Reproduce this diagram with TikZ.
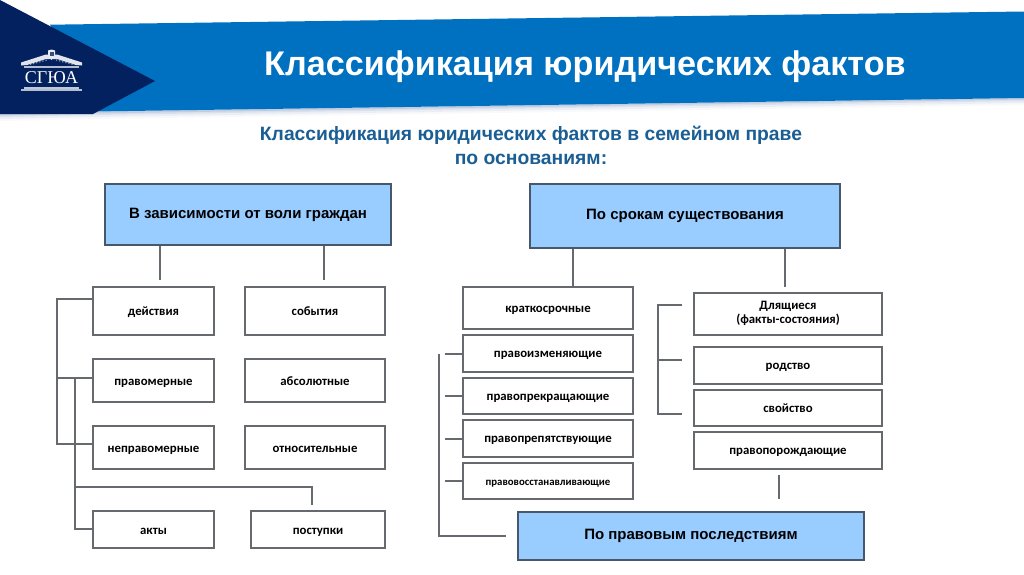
\documentclass[tikz,border=0pt]{standalone}
\usepackage{fontspec}
\setmainfont{Liberation Sans}
\newfontfamily\boxfont{Carlito}
\newfontfamily\logofont{Liberation Serif}
\tikzset{
  x=1pt,y=-1pt,
  box/.style={draw=linegray,line width=1.25pt,fill=white,inner sep=0pt,align=center,text=black,font=\boxfont\bfseries\fontsize{12.8}{15}\selectfont,execute at begin node=\rule[-2pt]{0pt}{13pt}},
  headbox/.style={draw=headline,line width=1.25pt,fill=headblue,inner sep=0pt,align=center,text=black,font=\bfseries\fontsize{15}{18}\selectfont,execute at begin node=\strut},
  headlow/.style={headbox,execute at begin node={\rule[-2.4pt]{0pt}{15pt}}},
  conn/.style={draw=linegray,line width=1.25pt},
}
\definecolor{linegray}{HTML}{666A6E}
\definecolor{headline}{HTML}{48586A}
\definecolor{headblue}{HTML}{99CCFF}
\definecolor{bannerblue}{HTML}{0070C0}
\definecolor{navy}{HTML}{03215F}
\definecolor{subblue}{HTML}{1B5E94}
\definecolor{shadowblue}{HTML}{5070A8}
\newcommand{\bx}[6][box]{%
  \node[#1,minimum width=#5-#3,minimum height=#6-#4] at ({(#3+#5)/2},{(#4+#6)/2})}
\begin{document}
\begin{tikzpicture}
\useasboundingbox (0,0) rectangle (1024,574);
\fill[white] (0,0) rectangle (1024,574);
% banner shadow
\foreach \d/\o in {1.5/.16,3/.11,5/.07,7/.04}{
  \fill[shadowblue,fill opacity=\o] (93,111.5) -- (1024,98) -- (1024,{98+\d}) -- (93,{112+\d}) -- (0,{114+\d}) -- (0,113) -- cycle;
}
% banner
\fill[bannerblue] (50,24.7) -- (1024,11.5) -- (1024,98) -- (93,111.5) -- cycle;
\fill[navy] (0,0) -- (155,81) -- (93,114) -- (0,114) -- cycle;
% logo
\fill[white!88!navy] (21,62.5) -- (46,54.5) -- (57,54.5) -- (82,62.5) -- (82,65.5) -- (76,65) -- (57,59) -- (46,59) -- (27,65) -- (21,65.5) -- cycle;
\draw[white!70!navy,line width=1.6pt] (24,67) -- (79,67);
\draw[white!55!navy,line width=1.2pt,dotted] (30,64.5) -- (47,60) (56,60) -- (73,64.5);
\fill[white!90!navy] (48,50.5) -- (51.5,49.5) -- (55,50.5) -- (55,56) -- (51.5,60) -- (48,56) -- cycle;
\fill[navy!80!white] (49.5,52) rectangle (53.5,56);
\fill[white!75!navy] (24,86.5) rectangle (79,88.5);
\fill[white!70!navy] (21,88.5) rectangle (82,91);
\node[font=\logofont\fontsize{18}{19}\selectfont,text=white,inner sep=0pt] (logo) at (51.5,78) {СГЮА};
% titles
\node[text=white,font=\bfseries\fontsize{34.2}{38}\selectfont,inner sep=0pt,anchor=west] (title) at (264,67) {Классификация юридических фактов};
\node[text=subblue,font=\bfseries\fontsize{19.3}{24}\selectfont,inner sep=0pt,align=center] (sub) at (531,145.5) {Классификация юридических фактов в семейном праве\\по основаниям:};
% head boxes
\bx[headbox]{v}{105}{184}{391}{245} (v) {В зависимости от воли граждан};
\bx[headbox]{s}{530}{184}{840}{248} (s) {По срокам существования};
\bx[headlow]{p}{518}{512}{864}{560} (p) {По правовым последствиям};
% left
\bx{a}{93}{287}{214}{335} (act) {действия};
\bx{a}{245}{287}{385}{335} (ev) {события};
\bx{a}{93}{359}{214}{402} (pm) {правомерные};
\bx{a}{245}{359}{385}{402} (ab) {абсолютные};
\bx{a}{93}{426}{214}{469} (np) {неправомерные};
\bx{a}{245}{426}{385}{469} (ot) {относительные};
\bx{a}{93}{511}{214}{548} (ak) {акты};
\bx{a}{251}{511}{385}{548} (po) {поступки};
% middle
\bx{a}{463}{287}{633}{329} (kr) {краткосрочные};
\bx{a}{463}{335}{633}{372} (pi) {правоизменяющие};
\bx{a}{463}{378}{633}{414} (ppk) {правопрекращающие};
\bx{a}{463}{420}{633}{457} (ppt) {правопрепятствующие};
\node[box,font=\boxfont\bfseries\fontsize{10.8}{13}\selectfont,minimum width=170,minimum height=36] (pv) at (548,481) {правовосстанавливающие};
% right
\bx{a}{694}{293}{882}{335} (dl) {Длящиеся\\[-1pt]\rule[-4pt]{0pt}{4pt}(факты-состояния)};
\bx{a}{694}{347}{882}{384} (ro) {родство};
\bx{a}{694}{390}{882}{426} (sv) {свойство};
\bx{a}{694}{432}{882}{469} (pp) {правопорождающие};
% free ends
\coordinate (s1) at (160,280);
\coordinate (s2) at (324,280);
\coordinate (s3) at (573,287);
\coordinate (s4) at (785,287);
\coordinate (tl) at (57,299);
\coordinate (tm) at (57,378);
\coordinate (tb) at (57,444);
\coordinate (t2) at (75,378);
\coordinate (t3) at (75,487);
\coordinate (t4) at (75,529);
\coordinate (e1) at (312,505);
\coordinate (b1) at (445,354);
\coordinate (b2) at (445,396);
\coordinate (b3) at (445,439);
\coordinate (b4) at (445,481);
\coordinate (tr) at (439,354);
\coordinate (trb) at (439,536);
\coordinate (pe) at (506,536);
\coordinate (c1) at (682,305);
\coordinate (c2) at (682,360);
\coordinate (c3) at (682,414);
\coordinate (c0) at (658,305);
\coordinate (c4) at (658,360);
\coordinate (c5) at (658,414);
\coordinate (u1) at (779,475);
\coordinate (u2) at (779,499);
% connectors
\draw[conn] (v.south -| s1) -- (s1);
\draw[conn] (v.south -| s2) -- (s2);
\draw[conn] (s.south -| s3) -- (s3);
\draw[conn] (s.south -| s4) -- (s4);
\draw[conn] (act.west |- tl) -- (tl) -- (tb) -- (np.west |- tb);
\draw[conn] (tm) -- (pm.west |- tm);
\draw[conn] (t2) -- (t4) -- (ak.west |- t4);
\draw[conn] (t3) -- (t3 -| e1) -- (e1);
\draw[conn] (b1) -- (pi.west |- b1);
\draw[conn] (b2) -- (ppk.west |- b2);
\draw[conn] (b3) -- (ppt.west |- b3);
\draw[conn] (b4) -- (pv.west |- b4);
\draw[conn] (tr) -- (trb) -- (pe);
\draw[conn] (c1) -- (c0) -- (c5) -- (c3);
\draw[conn] (c4) -- (c2);
\draw[conn] (u1) -- (u2);
\end{tikzpicture}
\end{document}
